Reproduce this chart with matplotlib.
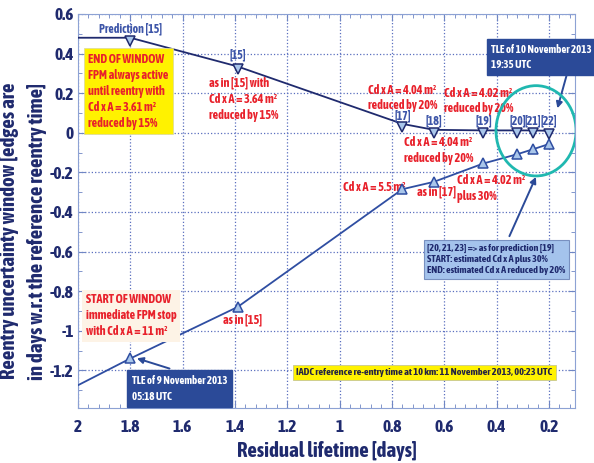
import numpy as np
import matplotlib.pyplot as plt
from matplotlib.patches import Ellipse
from matplotlib.transforms import offset_copy

# residual lifetime [days] of each prediction
end_x = [2.0, 1.8, 1.39, 0.76, 0.64, 0.45, 0.32, 0.26, 0.20]
end_y = [0.48, 0.48, 0.335, 0.045, 0.015, 0.012, 0.012, 0.012, 0.01]
start_x = [2.0, 1.8, 1.39, 0.76, 0.64, 0.45, 0.32, 0.26, 0.20]
start_y = [-1.275, -1.14, -0.88, -0.285, -0.248, -0.155, -0.108, -0.083, -0.057]
labels = ['Prediction [15]', '[15]', '[17]', '[18]', '[19]', '[20]', '[21]', '[22]']
label_dy = [0.045, 0.06, 0.042, 0.045, 0.048, 0.048, 0.048, 0.05]

xticks = [2, 1.8, 1.6, 1.4, 1.2, 1, 0.8, 0.6, 0.4, 0.2]
yticks = [-1.2, -1, -0.8, -0.6, -0.4, -0.2, 0, 0.2, 0.4, 0.6]

FONT = ['Asap Condensed', 'Liberation Sans', 'DejaVu Sans']
plt.rcParams['font.family'] = FONT
plt.rcParams['font.weight'] = 'bold'

navy = '#1f2a6e'
blue = '#2f4ea2'
lblue = '#3d55a8'
red = '#e8212b'
fill = '#a9c6ea'
boxblue = '#2b4a98'

fig = plt.figure(figsize=(5.94, 4.63), dpi=100)
ax = fig.add_axes([0.1313, 0.1188, 0.8367, 0.851])

# down triangles hang just under the line
down = offset_copy(ax.transData, fig=fig, x=0, y=-3, units='dots')
ax.plot(end_x, end_y, color=navy, lw=1.3, zorder=3)
ax.plot(end_x[1:], end_y[1:], 'v', ms=6.5, mfc=fill, mec=navy, mew=1.1, zorder=4, ls='None',
        transform=down)
ax.plot(start_x, start_y, color=blue, lw=1.3, zorder=3)
ax.plot(start_x[1:], start_y[1:], '^', ms=6.5, mfc=fill, mec=blue, mew=1.1, zorder=4, ls='None')

# labels of the predictions above the upper curve
for i, lab in enumerate(labels):
    ax.text(end_x[i + 1], end_y[i + 1] + label_dy[i], lab, color=lblue, fontsize=8.5,
            ha='center', va='center')

ax.set_xlim(2, 0.1)
ax.set_ylim(-1.39, 0.6)
ax.set_xticks(xticks)
ax.set_xticklabels(['2', '1.8', '1.6', '1.4', '1.2', '1', '0.8', '0.6', '0.4', '0.2'])
ax.set_yticks(yticks)
ax.set_yticklabels(['-1.2', '-1', '-0.8', '-0.6', '-0.4', '-0.2', '0', '0.2', '0.4', '0.6'])
ax.set_xticks(np.arange(0.12, 2.0, 0.04), minor=True)
ax.set_yticks(np.arange(-1.3, 0.6, 0.1), minor=True)
ax.tick_params(which='both', direction='in', colors='#6f86c4', top=True, right=True)
ax.tick_params(which='major', length=5, labelsize=12.5, labelcolor=navy)
ax.tick_params(which='minor', length=3)
ax.tick_params(axis='x', pad=8)
ax.tick_params(axis='y', pad=3)
for lab in ax.get_xticklabels() + ax.get_yticklabels():
    lab.set_fontweight('bold')
ax.grid(True, which='major', ls=':', color='#5a6fbf', lw=0.9)
for s in ax.spines.values():
    s.set_color('#8da2d4')

ax.set_xlabel('Residual lifetime [days]', fontsize=15, color=navy, fontweight='bold', labelpad=4)
fig.text(23 / 594, 1 - 231 / 463,
         'Reentry uncertainty window [edges are\nin days w.r.t the reference reentry time]',
         rotation=90, ha='center', va='center', fontsize=15, color=navy,
         fontweight='bold', linespacing=1.45)

fs = 8.7
ls = 1.22
ax.text(1.962, 0.405, 'END OF WINDOW\nFPM always active\nuntil reentry with\nCd x A = 3.61 m²\nreduced by 15%',
        color=red, fontsize=fs, va='top', ha='left', linespacing=1.3,
        bbox=dict(boxstyle='square,pad=0.35', fc='#fff200', ec='#d8d8a0', lw=0.5))
ax.text(1.50, 0.284, 'as in [15] with\nCd x A = 3.64 m²\nreduced by 15%', color=red, fontsize=fs,
        va='top', ha='left', linespacing=1.3)
ax.text(0.89, 0.245, 'Cd x A = 4.04 m²\nreduced by 20%', color=red, fontsize=fs, va='top', linespacing=ls)
ax.text(0.60, 0.23, 'Cd x A = 4.02 m²\nreduced by 20%', color=red, fontsize=fs, va='top', linespacing=ls)
ax.text(0.753, -0.015, 'Cd x A = 4.04 m²\nreduced by 20%', color=red, fontsize=fs, va='top', linespacing=1.3)
ax.text(0.987, -0.278, 'Cd x A = 5.5 m²', color=red, fontsize=fs, va='center')
ax.text(0.704, -0.30, 'as in [17]', color=red, fontsize=fs, va='center')
ax.text(0.551, -0.21, 'Cd x A = 4.02 m²\nplus 30%', color=red, fontsize=fs, va='top', linespacing=1.3)
ax.text(1.969, -0.81, 'START OF WINDOW\nimmediate FPM stop\nwith Cd x A = 11 m²', color=red, fontsize=fs,
        va='top', ha='left', linespacing=1.3,
        bbox=dict(boxstyle='square,pad=0.3', fc='#fdf3e6', ec='none'))
ax.text(1.445, -0.947, 'as in [15]', color=red, fontsize=fs, va='center')

ax.text(1.794, -1.225, 'TLE of 9 November 2013\n05:18 UTC', color='white', fontsize=7.8, va='top',
        linespacing=1.5, zorder=5,
        bbox=dict(boxstyle='square,pad=0.45', fc=boxblue, ec=boxblue))
ax.annotate('', xy=(1.785, -1.135), xytext=(1.64, -1.195),
            arrowprops=dict(arrowstyle='-|>', color=boxblue, lw=1.4, mutation_scale=9), zorder=5)

ax.text(1.165, -1.21, 'IADC reference re-entry time at 10 km: 11 November 2013, 00:23 UTC',
        color='#222244', fontsize=7.4, va='center', ha='left',
        bbox=dict(boxstyle='square,pad=0.3', fc='#fff200', ec='#c8c890', lw=0.6))

ax.text(0.665, -0.56, '[20, 21, 23] => as for prediction [19]\nSTART: estimated Cd x A plus 30%\nEND: estimated Cd x A reduced by 20%',
        color='#1f2a6e', fontsize=7.3, va='top', ha='left', linespacing=1.3,
        bbox=dict(boxstyle='square,pad=0.35', fc='#a4c3ec', ec='#7890c0', lw=0.8))
ax.annotate('', xy=(0.245, -0.21), xytext=(0.355, -0.535),
            arrowprops=dict(arrowstyle='-|>', color=boxblue, lw=1.4, mutation_scale=9))

ax.text(0.42, 0.45, 'TLE of 10 November 2013\n19:35 UTC', color='white', fontsize=7.8, va='top',
        linespacing=1.5, clip_on=False, zorder=5,
        bbox=dict(boxstyle='square,pad=0.4', fc=boxblue, ec=boxblue))
ax.annotate('', xy=(0.17, 0.11), xytext=(0.13, 0.3),
            arrowprops=dict(arrowstyle='-|>', color=boxblue, lw=1.4, mutation_scale=9))

ax.add_patch(Ellipse((0.249, 0.01), 0.306, 0.456, fill=False, ec='#20b8b0', lw=2, zorder=6))

fig.savefig('out.png', dpi=100)
